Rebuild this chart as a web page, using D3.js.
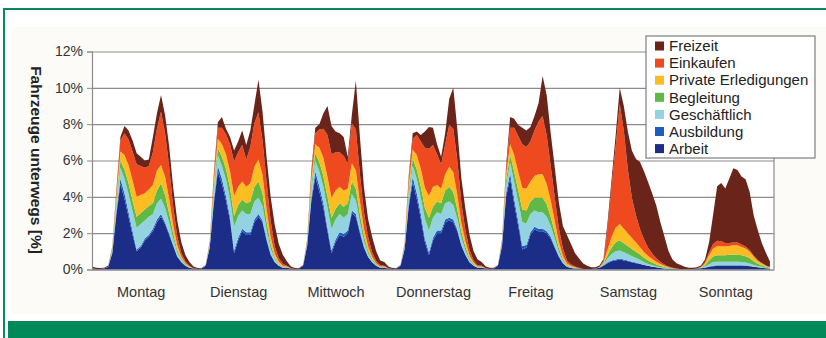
<!DOCTYPE html>
<html>
<head>
<meta charset="utf-8">
<script src="https://cdn.jsdelivr.net/npm/d3@7"></script>
<style>
  body { margin: 0; background: #fff; }
  text { font-family: "Liberation Sans", Arial, sans-serif; }
</style>
</head>
<body>
<div id="graph"></div>
<script>
// day names and series
const days = ["Montag", "Dienstag", "Mittwoch", "Donnerstag", "Freitag", "Samstag", "Sonntag"];
const keys = ["arbeit", "ausbildung", "geschaeftlich", "begleitung", "private", "einkaufen", "freizeit"];
const labels = ["Arbeit", "Ausbildung", "Geschäftlich", "Begleitung", "Private Erledigungen", "Einkaufen", "Freizeit"];
const colors = ["#1b2d86", "#1f5cc0", "#93d2df", "#5fb947", "#fcbd22", "#ef4a1f", "#6b2419"];
const yTicks = [0, 2, 4, 6, 8, 10, 12];

// hourly share of vehicles on the road [%], one line per day (0h..23h)
const arbeit = [
    .05, .03, .03, .05, .15, .9, 3.0, 4.7, 3.9, 2.9, 1.9, 1.0, 1.2, 1.6, 1.8, 2.1, 2.6, 2.9, 2.5, 1.9, 1.3, .7, .4, .2,
    .1, .05, .03, .05, .2, 1.2, 3.6, 5.4, 4.7, 3.8, 2.7, .9, 1.6, 2.1, 1.9, 1.9, 2.6, 2.9, 2.6, 1.6, .8, .4, .2, .1,
    .1, .05, .03, .05, .2, 1.3, 3.7, 5.1, 4.3, 3.4, 2.1, .9, 1.5, 1.9, 1.8, 2.0, 3.1, 2.9, 2.0, 1.2, .7, .4, .2, .1,
    .1, .05, .03, .05, .2, 1.1, 3.4, 4.8, 3.9, 2.8, 1.5, .8, 1.6, 2.0, 2.0, 2.6, 2.7, 2.6, 2.1, 1.3, .8, .4, .2, .1,
    .1, .05, .03, .05, .2, 1.3, 4.0, 5.0, 3.6, 2.4, 1.1, 1.2, 1.9, 2.2, 2.1, 2.1, 2.0, 1.7, 1.2, .7, .35, .15, .08, .05,
    .05, .03, .03, .03, .05, .1, .2, .35, .45, .5, .55, .5, .45, .4, .35, .3, .25, .2, .15, .12, .08, .06, .04, .03,
    .03, .02, .02, .02, .03, .05, .07, .1, .15, .18, .2, .2, .2, .2, .2, .2, .2, .2, .18, .15, .12, .1, .07, .05
];
const ausbildung = [
    0, 0, 0, 0, 0, .05, .2, .3, .3, .25, .2, .1, .1, .1, .1, .15, .15, .15, .1, .1, .05, .03, .02, 0,
    0, 0, 0, 0, 0, .05, .2, .3, .3, .25, .2, .15, .15, .15, .15, .15, .15, .15, .1, .1, .05, .03, 0, 0,
    0, 0, 0, 0, 0, .05, .2, .3, .3, .25, .2, .15, .15, .15, .15, .15, .15, .15, .1, .05, 0, 0, 0, 0,
    0, 0, 0, 0, 0, .05, .2, .3, .3, .25, .2, .15, .15, .15, .15, .15, .15, .15, .1, .05, 0, 0, 0, 0,
    0, 0, 0, 0, 0, .05, .2, .3, .3, .25, .2, .15, .15, .15, .15, .15, .1, .1, .05, .03, 0, 0, 0, 0,
    0, 0, 0, 0, 0, 0, .03, .05, .05, .05, .05, .05, .05, .03, .03, .02, 0, 0, 0, 0, 0, 0, 0, 0,
    0, 0, 0, 0, 0, 0, 0, .01, .02, .03, .03, .03, .03, .03, .03, .03, .03, .02, .02, 0, 0, 0, 0, 0
];
const geschaeftlich = [
    0, 0, 0, 0, .02, .1, .35, .6, .8, 1.0, 1.1, 1.2, 1.2, 1.0, 1.0, .8, .9, .85, .8, .6, .35, .2, .1, .05,
    .02, 0, 0, 0, .02, .1, .4, .6, .7, .9, 1.0, 1.3, 1.2, 1.0, 1.0, 1.0, 1.0, .9, .8, .5, .3, .15, .07, .03,
    .02, 0, 0, 0, .02, .1, .4, .6, .8, .9, 1.1, 1.2, 1.1, 1.0, .9, .9, .9, .75, .5, .3, .2, .1, .05, .02,
    .02, 0, 0, 0, .02, .1, .4, .6, .8, .9, 1.1, 1.2, 1.1, 1.0, .9, .9, .9, .8, .6, .4, .25, .12, .05, .02,
    .02, 0, 0, 0, .02, .1, .4, .6, .9, 1.1, 1.3, 1.2, 1.0, .9, .9, .9, .8, .6, .45, .25, .12, .05, .03, .02,
    0, 0, 0, 0, 0, .02, .05, .2, .35, .45, .45, .4, .35, .3, .25, .2, .15, .1, .08, .05, .04, .03, .02, 0,
    0, 0, 0, 0, 0, 0, .02, .05, .12, .2, .2, .2, .2, .2, .2, .2, .18, .16, .13, .1, .07, .05, .03, .02
];
const begleitung = [
    0, 0, 0, 0, 0, .05, .25, .4, .5, .6, .6, .6, .6, .6, .6, .6, .7, .85, .7, .5, .3, .15, .08, .05,
    .02, 0, 0, 0, 0, .05, .3, .4, .5, .6, .6, .6, .6, .6, .6, .7, .8, .9, .7, .45, .25, .1, .05, .03,
    .02, 0, 0, 0, 0, .05, .3, .4, .5, .6, .6, .6, .6, .6, .6, .6, .7, .65, .45, .3, .15, .08, .05, .02,
    .02, 0, 0, 0, 0, .05, .3, .4, .5, .6, .6, .7, .6, .6, .6, .7, .8, .7, .5, .3, .2, .1, .05, .02,
    .02, 0, 0, 0, 0, .05, .3, .4, .6, .6, .7, .7, .7, .7, .8, .8, .7, .5, .35, .2, .1, .05, .03, .02,
    0, 0, 0, 0, 0, 0, .05, .2, .35, .5, .55, .5, .45, .4, .35, .3, .25, .2, .15, .1, .08, .05, .03, .02,
    0, 0, 0, 0, 0, 0, .02, .08, .2, .3, .35, .35, .35, .38, .4, .4, .38, .35, .3, .2, .13, .08, .05, .03
];
const privat = [
    0, 0, 0, 0, 0, .05, .25, .5, .8, 1.0, 1.1, 1.1, 1.0, .9, .9, 1.0, 1.1, 1.0, 1.0, .8, .45, .25, .1, .05,
    .02, 0, 0, 0, 0, .05, .3, .5, .7, .8, .9, 1.1, 1.0, 1.0, .9, 1.0, 1.1, 1.2, 1.0, .7, .4, .2, .1, .05,
    .02, 0, 0, 0, 0, .05, .3, .5, .8, 1.0, 1.1, 1.1, 1.0, .9, .9, .8, 1.0, 1.0, .7, .4, .25, .12, .05, .03,
    .02, 0, 0, 0, 0, .05, .3, .5, .8, 1.0, 1.1, 1.2, 1.1, .9, .8, .9, 1.1, 1.1, .8, .5, .3, .15, .07, .03,
    .02, 0, 0, 0, 0, .05, .3, .6, .9, 1.0, 1.2, 1.2, 1.1, 1.2, 1.3, 1.3, 1.1, .9, .6, .35, .18, .08, .05, .03,
    0, 0, 0, 0, 0, 0, .05, .3, .6, .8, .9, .8, .7, .6, .5, .4, .3, .25, .2, .15, .1, .06, .03, .02,
    0, 0, 0, 0, 0, 0, .02, .1, .3, .45, .5, .5, .48, .48, .5, .5, .45, .42, .35, .25, .15, .1, .05, .03
];
const einkaufen = [
    .02, 0, 0, 0, 0, .05, .25, .6, 1.2, 1.4, 1.6, 1.8, 1.6, 1.4, 1.3, 1.8, 2.3, 2.95, 2.4, 1.8, 1.0, .5, .2, .1,
    .05, .02, 0, 0, 0, .05, .3, .6, .9, 1.1, 1.5, 1.9, 1.9, 2.0, 1.5, 2.0, 2.4, 2.6, 1.9, 1.5, .9, .4, .2, .1,
    .05, .02, 0, 0, 0, .05, .35, .6, 1.0, 1.6, 2.3, 2.4, 2.1, 1.9, 1.9, 1.4, 2.2, 2.25, 1.5, .9, .5, .25, .12, .06,
    .05, .02, 0, 0, 0, .05, .35, .6, 1.1, 1.5, 2.2, 2.6, 2.3, 1.7, 1.35, 1.65, 2.3, 2.4, 1.9, 1.1, .6, .3, .13, .07,
    .05, .02, 0, 0, 0, .05, .35, .9, 1.5, 2.0, 2.4, 2.3, 2.2, 2.5, 2.9, 3.2, 2.7, 1.9, 1.3, .75, .4, .17, .08, .05,
    .05, 0, 0, 0, 0, .02, .1, 1.2, 2.8, 4.5, 6.6, 5.4, 3.5, 2.2, 1.5, 1.0, .7, .45, .3, .2, .12, .08, .05, .03,
    .02, 0, 0, 0, 0, 0, .02, .06, .15, .25, .3, .28, .2, .17, .15, .15, .13, .12, .1, .07, .05, .03, .02, .01
];
const freizeit = [
    .1, .07, .05, .05, .05, .05, .1, .2, .4, .5, .6, .6, .5, .4, .35, .85, .85, .9, 1.0, 1.1, 1.05, .87, .6, .35,
    .2, .1, .05, .03, .03, .05, .15, .3, .6, .3, .4, .6, .6, .8, .8, .9, 1.0, 1.8, 1.6, 1.35, 1.3, 1.2, .8, .5,
    .25, .1, .05, .03, .03, .05, .15, .3, .3, .85, 1.6, 1.55, 1.15, 1.05, 1.05, .35, .45, 2.7, 2.05, 1.35, 1.0, .85, .53, .27,
    .2, .1, .05, .03, .03, .05, .15, .3, .2, .35, .9, 1.2, .95, .55, .4, .6, 1.45, 2.25, 1.7, 1.35, 1.15, .83, .5, .31,
    .2, .1, .06, .04, .03, .05, .15, .6, .5, .6, .9, .9, .8, .8, 1.0, 2.2, 2.2, 1.8, 1.65, 1.42, 1.25, 1.4, 1.13, .73,
    .5, .3, .17, .1, .08, .08, .1, .3, .4, .6, .9, 1.35, 2.1, 2.6, 3.1, 3.7, 3.75, 3.6, 3.3, 2.9, 2.2, 1.55, .85, .45,
    .3, .23, .13, .08, .07, .07, .07, .15, .55, 1.6, 3.0, 3.2, 3.0, 3.55, 4.1, 4.0, 3.75, 3.7, 3.2, 2.2, 1.65, 1.1, .7, .3
];

// table for d3.stack
const series = [arbeit, ausbildung, geschaeftlich, begleitung, privat, einkaufen, freizeit];
const rows = d3.range(arbeit.length).map((i) => {
    let r = { hour: i };
    keys.forEach((k, j) => { r[k] = series[j][i]; });
    return r;
});

const W = 826, H = 338;
const margin = { top: 51.5, right: 52, bottom: 68.5, left: 92 },
    width = W - margin.left - margin.right,
    height = H - margin.top - margin.bottom;

let root = d3.select("#graph")
    .append("svg")
    .attr("width", W)
    .attr("height", H);

// frame of the page
root.append("rect").attr("x", 12).attr("y", 27).attr("width", W - 12).attr("height", 287).attr("fill", "#fcfbf8");
root.append("line").attr("x1", 4).attr("x2", W).attr("y1", 9).attr("y2", 9)
    .attr("stroke", "#0a8a5c").attr("stroke-width", 2);
root.append("line").attr("x1", 4).attr("x2", 4).attr("y1", 8).attr("y2", H)
    .attr("stroke", "#0a8a5c").attr("stroke-width", 2);
root.append("rect").attr("x", 8).attr("y", 321).attr("width", W - 8).attr("height", H - 321).attr("fill", "#008a59");

let svg = root.append("g")
    .attr("transform", "translate(" + margin.left + "," + margin.top + ")");

svg.append("rect").attr("width", width).attr("height", height).attr("fill", "#fff");

let x = d3.scaleLinear().domain([0, 168]).range([0, width]);
let y = d3.scaleLinear().domain([0, 12]).range([height, 0]);

// grid lines
svg.append("g")
    .call(d3.axisLeft(y).tickValues(yTicks).tickSize(-width).tickFormat(""))
    .call(g => g.select(".domain").remove())
    .selectAll("line")
    .attr("stroke", "#8c8c8c")
    .attr("stroke-width", 1.2);

// stacked areas
let stack = d3.stack().keys(keys);
let area = d3.area()
    .x(d => x(d.data.hour))
    .y0(d => y(d[0]))
    .y1(d => y(d[1]));

svg.append("g")
    .selectAll("path")
    .data(stack(rows))
    .join("path")
    .attr("fill", (d, i) => colors[i])
    .attr("d", area);

// right border
svg.append("line").attr("x1", width).attr("x2", width).attr("y1", 0).attr("y2", height)
    .attr("stroke", "#8c8c8c").attr("stroke-width", 1.2);

// Y axis
let yAxis = svg.append("g")
    .call(d3.axisLeft(y).tickValues(yTicks).tickSize(5).tickPadding(4).tickFormat(d => d + "%"));
yAxis.select(".domain").attr("stroke", "#8c8c8c").attr("stroke-width", 1.2);
yAxis.selectAll("line").attr("stroke", "#8c8c8c");
yAxis.selectAll("text").attr("font-size", "14px").attr("fill", "#333");

// X axis
let xAxis = svg.append("g")
    .attr("transform", "translate(0," + height + ")")
    .call(d3.axisBottom(x).tickValues(days.map((d, i) => i * 24 + 12)).tickSize(0).tickPadding(17)
        .tickFormat((d, i) => days[i]));
xAxis.select(".domain").attr("stroke", "#8c8c8c").attr("stroke-width", 1.2);
xAxis.selectAll("text").attr("font-size", "14.5px").attr("fill", "#333");

// Y title
root.append("text")
    .attr("transform", "translate(31," + 160 + ") rotate(90)")
    .style("text-anchor", "middle")
    .attr("font-size", "15.5px")
    .attr("font-weight", "bold")
    .attr("fill", "#222")
    .text("Fahrzeuge unterwegs [%]");

// Legend
let legend = root.append("g").attr("transform", "translate(646,36)");
legend.append("rect").attr("width", 169).attr("height", 122)
    .attr("fill", "#fff").attr("stroke", "#7d7d7d").attr("stroke-width", 1.2);
let items = d3.range(keys.length).reverse();
items.forEach((k, i) => {
    let g = legend.append("g").attr("transform", "translate(0," + (10 + i * 17.1) + ")");
    g.append("rect").attr("x", 9).attr("y", -4.5).attr("width", 9).attr("height", 9).attr("fill", colors[k]);
    g.append("text").attr("x", 23).attr("dy", "0.35em")
        .attr("font-size", "15px").attr("fill", "#222")
        .text(labels[k]);
});
</script>
</body>
</html>
